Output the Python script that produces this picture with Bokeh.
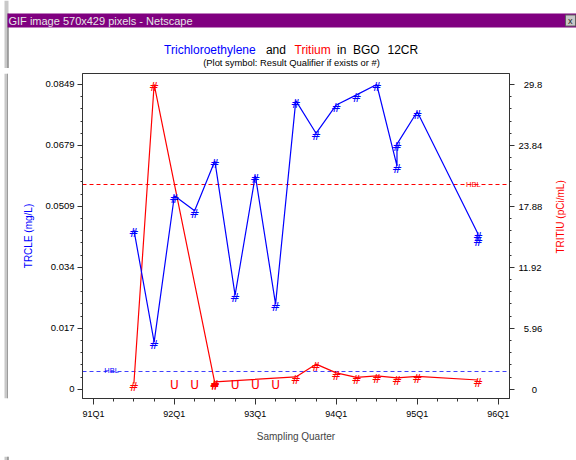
import math
from bokeh.plotting import figure
from bokeh.layouts import column, row
from bokeh.models import Range1d, LinearAxis, FixedTicker, Label, ColumnDataSource
from bokeh.core.properties import value
from bokeh.embed import file_html
from bokeh.resources import INLINE

# ---------------- data ----------------
quarter_ticks = [0, 4, 8, 12, 16, 20]
quarter_labels = ["91Q1", "92Q1", "93Q1", "94Q1", "95Q1", "96Q1"]

tce_quarters = ["91Q3", "91Q4", "92Q1", "92Q2", "92Q3", "92Q4", "93Q1", "93Q2", "93Q3",
                "93Q4", "94Q1", "94Q2", "94Q3", "94Q4", "94Q4", "95Q1", "95Q4", "95Q4"]
tce_values = [0.0444, 0.0131, 0.0539, 0.0497, 0.0636, 0.0262, 0.0595, 0.0237, 0.0804,
              0.0713, 0.0792, 0.0820, 0.0849, 0.0622, 0.0683, 0.0773, 0.0433, 0.0418]
tce_symbols = ["#"] * len(tce_values)

trit_quarters = ["91Q3", "91Q4", "92Q1", "92Q2", "92Q3", "92Q3", "92Q4", "93Q1", "93Q2",
                 "93Q3", "93Q4", "94Q1", "94Q2", "94Q3", "94Q4", "95Q1", "95Q4"]
trit_values = [0.55, 29.8, 0.68, 0.68, 0.6, 0.72, 0.68, 0.68, 0.68,
               1.2, 2.45, 1.6, 1.15, 1.3, 1.1, 1.25, 0.9]
trit_symbols = ["#", "#", "U", "U", "#", "#", "U", "U", "U",
                "#", "#", "#", "#", "#", "#", "#", "#"]

tce_hbl = 0.005
trit_hbl = 20.0

left_ticks = [0, 0.01698, 0.03396, 0.05094, 0.06792, 0.0849]
left_tick_labels = ["0", "0.017", "0.034", "0.0509", "0.0679", "0.0849"]
right_ticks = [0, 5.96, 11.92, 17.88, 23.84, 29.8]
right_tick_labels = ["0", "5.96", "11.92", "17.88", "23.84", "29.8"]

title_words = ["Trichloroethylene", "and", "Tritium", "in", "BGO", "12CR"]
subtitle = "(Plot symbol: Result Qualifier if exists or #)"
window_title = "GIF image 570x429 pixels - Netscape"

# ---------------- helpers ----------------
def qindex(s):
    return (int(s[:2]) - 91) * 4 + (int(s[3]) - 1)

FONT = "Liberation Sans"
BLUE = "#0000FF"
RED = "#FF0000"
WIN_GRAY = "#C8C8C8"
WIN_DARK = "#707070"

W, H = 576, 460
HEAD_H = 68
FOOT_H = 8
LEFT_W = 8
SIDE_W = 26
MAIN_H = H - HEAD_H - FOOT_H
MAIN_W = W - LEFT_W - SIDE_W


def blank(width, height):
    f = figure(width=width, height=height, output_backend="svg", toolbar_location=None,
               tools="", x_range=Range1d(0, width), y_range=Range1d(0, height),
               x_axis_type=None, y_axis_type=None, min_border=0,
               background_fill_color="white", border_fill_color="white")
    f.grid.visible = False
    f.outline_line_color = None
    return f


# ---------------- header (window bar + title) ----------------
head = blank(W, HEAD_H)
head.quad(left=[4], right=[8], bottom=[0], top=[HEAD_H], fill_color=WIN_GRAY, line_color=None)
head.segment(x0=[7.5], y0=[0], x1=[7.5], y1=[HEAD_H - 13], line_color=WIN_DARK, line_width=1)
head.quad(left=[7], right=[W], bottom=[HEAD_H - 27], top=[HEAD_H - 13],
          fill_color="#800080", line_color=None)
head.quad(left=[565], right=[575], bottom=[HEAD_H - 25.5], top=[HEAD_H - 14.5],
          fill_color="#C8C8C8", line_color="#606060")
head.text(x=[567.5], y=[HEAD_H - 20], text=["x"], text_color="#202020",
          text_font=value(FONT), text_font_size="9px", text_baseline="middle")
head.text(x=[8], y=[HEAD_H - 20], text=[window_title], text_color="#E6E6E6",
          text_font=value(FONT), text_font_size="11px", text_baseline="middle")

title_x = [163.6, 265.4, 294, 336.5, 352.5, 387]
title_c = [BLUE, "black", RED, "black", "black", "black"]
head.text(x=title_x, y=[HEAD_H - 49.8] * len(title_x), text=title_words, text_color=title_c,
          text_font=value(FONT), text_font_size="12px", text_baseline="alphabetic")
head.text(x=[291], y=[HEAD_H - 61.5], text=[subtitle], text_color="black",
          text_font=value(FONT), text_font_size="9.4px", text_align="center",
          text_baseline="middle")

# ---------------- main plot ----------------
tce_x = [qindex(q) for q in tce_quarters]
trit_x = [qindex(q) for q in trit_quarters]

tce_src = ColumnDataSource(dict(x=tce_x, y=tce_values, s=tce_symbols))
trit_src = ColumnDataSource(dict(x=trit_x, y=trit_values, s=trit_symbols))
det = [i for i, s in enumerate(trit_symbols) if s != "U"]
trit_line_src = ColumnDataSource(dict(x=[trit_x[i] for i in det], y=[trit_values[i] for i in det]))

ratio = right_ticks[-1] / left_ticks[-1]
ylo, yhi = -0.00259, 0.08796

p = figure(width=MAIN_W, height=MAIN_H, output_backend="svg", toolbar_location=None, tools="",
           x_range=Range1d(-0.54, 20.56), y_range=Range1d(ylo, yhi),
           min_border_left=82 - LEFT_W, min_border_right=LEFT_W + MAIN_W - 509,
           min_border_top=73 - HEAD_H, min_border_bottom=HEAD_H + MAIN_H - 398,
           background_fill_color="white", border_fill_color="white")
p.extra_y_ranges = {"trit": Range1d(ylo * ratio, yhi * ratio)}
p.grid.visible = False
p.outline_line_color = "#333333"
p.outline_line_width = 1

xa = p.xaxis[0]
xa.ticker = FixedTicker(ticks=quarter_ticks, minor_ticks=list(range(0, 21)))
xa.major_label_overrides = {t: l for t, l in zip(quarter_ticks, quarter_labels)}
xa.axis_label = "Sampling Quarter"

ya = p.yaxis[0]
ya.ticker = FixedTicker(ticks=left_ticks,
                        minor_ticks=[i * left_ticks[-1] / 25 for i in range(26)])
ya.major_label_overrides = {t: l for t, l in zip(left_ticks, left_tick_labels)}
ya.axis_label = "TRCLE (mg/L)"
ya.axis_label_text_color = BLUE

ra = LinearAxis(y_range_name="trit")
ra.ticker = FixedTicker(ticks=right_ticks,
                        minor_ticks=[i * right_ticks[-1] / 25 for i in range(26)])
pad = {"0": "\u2007\u2007\u2008", "5.96": "\u2007", "29.8": "\u2007"}
ra.major_label_overrides = {t: pad.get(l, "") + l for t, l in zip(right_ticks, right_tick_labels)}
p.add_layout(ra, "right")

for ax in (xa, ya, ra):
    ax.axis_line_color = "#333333"
    ax.major_tick_line_color = "#333333"
    ax.minor_tick_line_color = "#333333"
    ax.major_tick_in = 0
    ax.minor_tick_in = 0
    ax.major_label_text_font = FONT
    ax.major_label_text_color = "black"
    ax.axis_label_text_font = FONT
    ax.axis_label_text_font_style = "normal"
    ax.axis_label_text_font_size = "10px"
xa.major_tick_out = 6
xa.minor_tick_out = 3
xa.major_label_standoff = 4
xa.major_label_text_font_size = "9px"
xa.axis_label_standoff = 9
for ax in (ya, ra):
    ax.major_tick_out = 5
    ax.minor_tick_out = 2
    ax.major_label_text_font_size = "9.5px"
ya.major_label_standoff = 3
ya.axis_label_standoff = 8
ra.major_label_standoff = 4

# reference lines
p.hspan(y=[tce_hbl], line_color="#4040FF", line_width=1, line_dash="4 3")
p.hspan(y=[trit_hbl], y_range_name="trit", line_color=RED, line_width=1, line_dash="4 3")

# series
p.line("x", "y", source=trit_line_src, y_range_name="trit", line_color=RED, line_width=1.2)
p.text("x", "y", text="s", source=trit_src, y_range_name="trit", text_color=RED,
       text_font=value("DejaVu Sans"), text_font_size="12px",
       text_align="center", text_baseline="middle", y_offset=3)
p.line("x", "y", source=tce_src, line_color=BLUE, line_width=1.2)
p.text("x", "y", text="s", source=tce_src, text_color=BLUE,
       text_font=value("DejaVu Sans"), text_font_size="12px",
       text_align="center", text_baseline="middle", y_offset=3)

# HBL labels
p.add_layout(Label(x=0.9, y=tce_hbl, text="HBL", text_color=BLUE, text_font=FONT,
                   text_font_size="7.5px", text_align="center", text_baseline="alphabetic",
                   y_offset=1))
p.add_layout(Label(x=18.77, y=trit_hbl, y_range_name="trit", text="HBL", text_color=RED,
                   text_font=FONT, text_font_size="7.5px", text_align="center",
                   text_baseline="middle"))

# ---------------- left window border strip ----------------
left = blank(LEFT_W, MAIN_H)
left.quad(left=[4], right=[8], bottom=[0], top=[MAIN_H], fill_color=WIN_GRAY, line_color=None)
left.segment(x0=[7.5], y0=[0], x1=[7.5], y1=[MAIN_H], line_color=WIN_DARK, line_width=1)

# ---------------- right side strip (right axis title) ----------------
side = blank(SIDE_W, MAIN_H)
side.text(x=[559.5 - LEFT_W - MAIN_W], y=[HEAD_H + MAIN_H - 237.5], text=["TRITIU (pCi/mL)"],
          text_color=RED, text_font=value(FONT), text_font_size="10px", text_align="center",
          text_baseline="middle", angle=math.pi / 2)

# ---------------- bottom window border strip ----------------
foot = blank(W, FOOT_H)
foot.quad(left=[4], right=[8], bottom=[2], top=[FOOT_H], fill_color=WIN_GRAY, line_color=None)
foot.segment(x0=[7.5], y0=[2], x1=[7.5], y1=[FOOT_H], line_color=WIN_DARK, line_width=1)
foot.quad(left=[4], right=[W], bottom=[0], top=[1.5], fill_color=WIN_GRAY, line_color=None)

layout = column(head, row(left, p, side, spacing=0), foot, spacing=0)
open("out.html", "w").write(file_html(layout, INLINE))
